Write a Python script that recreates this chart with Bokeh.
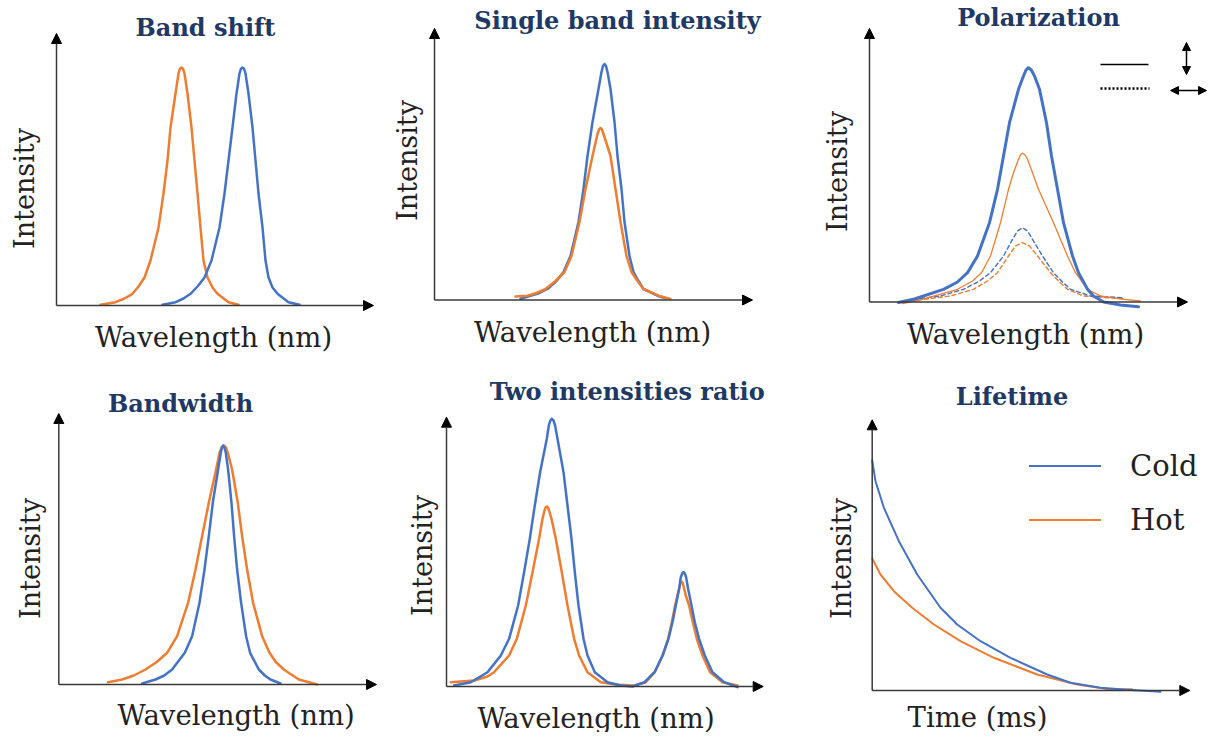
from math import pi
from bokeh.plotting import figure
from bokeh.layouts import column, row
from bokeh.models import Range1d, Label, Arrow, NormalHead, Legend, LegendItem
from bokeh.embed import file_html
from bokeh.resources import INLINE

BLUE = "#4472C4"
ORANGE = "#ED7D31"
NAVY = "#203864"
AXIS = "#3a3a3a"
TXT = "#222222"
SERIF = "DejaVu Serif"

# ---------------- data (arbitrary units) ----------------
# Band shift
shift_hot_x = [44, 59, 68, 76, 82, 88, 94, 102, 107, 111, 114, 119, 122, 123.5, 125, 126.5, 128, 131, 135, 138, 141, 144, 147, 151, 156, 161, 172, 182]
shift_hot_y = [0.7, 3.3, 7, 11.7, 19, 28, 45, 78, 112, 145, 178, 212, 232, 236.8, 238, 236.8, 232, 212, 178, 145, 112, 78, 45, 28, 18, 11.7, 3.3, 0.7]
shift_cold_x = [106, 119, 127, 134, 141, 148, 155, 163, 168, 172, 176, 180, 183, 184.5, 186, 187.5, 189, 192, 196, 199, 202, 206, 209, 212, 216, 221, 232, 243]
shift_cold_y = [0.7, 3.3, 7, 11.7, 19, 28, 45, 78, 112, 145, 178, 212, 232, 236.8, 238, 236.8, 232, 212, 178, 145, 112, 78, 45, 28, 18, 11.7, 3.3, 0.7]

# Single band intensity
single_cold_x = [86, 96, 105, 113, 122, 129, 136, 144, 149, 153, 158, 164, 167, 168.5, 170, 171.5, 173, 176, 180, 183, 187, 190, 195, 199, 204, 209, 223, 231]
single_cold_y = [1.2, 4.3, 7, 11, 19, 28, 44, 78, 111, 144, 178, 211, 228, 234, 236, 234, 228, 211, 178, 144, 111, 78, 44, 28, 19, 11, 4.3, 1.7]
single_hot_x = [81, 93, 102, 111, 121, 130, 137, 145, 151, 158, 163, 164.5, 166, 167.5, 169, 176, 181, 186, 192, 197, 203, 209, 224, 236]
single_hot_y = [3.5, 4.3, 7, 11, 19, 28, 44, 78, 111, 144, 166, 170.5, 172, 170.5, 166, 144, 111, 78, 44, 28, 19, 11, 4.3, 1]

# Polarization (solid = one polarization, dashed = the other)
pol_cold_solid_x = [29, 45, 54, 74, 88, 98, 108, 120, 128, 134, 140, 149, 154, 156.5, 159, 161.8, 165, 170, 177, 182, 188, 194, 203, 209, 218, 224, 234, 251, 269]
pol_cold_solid_y = [-0.5, 3, 6, 12.7, 20, 29.3, 46, 79.3, 112.7, 146, 179.3, 212.7, 226, 232, 234.3, 232, 226, 212.7, 179.3, 146, 112.7, 79.3, 46, 29.3, 12.7, 6, 0, -3, -4.7]
pol_hot_solid_x = [33, 50, 64, 88, 103, 112, 121, 131, 139, 144, 149, 151, 153, 155.5, 158, 163, 169, 184, 198, 206, 218, 231, 254, 271]
pol_hot_solid_y = [-1.5, 2, 6, 12.7, 21, 29.3, 46, 79.3, 112.7, 129.3, 142.7, 147.3, 148.7, 147.3, 142.7, 129.3, 112.7, 79.3, 46, 29.3, 12.7, 6, 2.7, 1]
pol_cold_dash_x = [44, 71, 94, 110, 121, 134, 143, 148, 153, 158, 163, 173, 184, 193, 201, 221, 254]
pol_cold_dash_y = [2.7, 6, 12.7, 21, 29.3, 46, 62.7, 71, 74.3, 71, 62.7, 46, 29.3, 20, 12.7, 6, 4.3]
pol_hot_dash_x = [41, 81, 104, 118, 128, 139, 146, 153, 160, 168, 181, 190, 198, 214, 254]
pol_hot_dash_y = [1, 6, 12.7, 21, 29.3, 46, 56, 59.3, 56, 46, 29.3, 20, 12.7, 6, 3.3]

# Bandwidth
bw_cold_x = [83.3, 96.7, 105.5, 113.3, 126, 133.3, 140.7, 145.7, 150, 154, 159.3, 162, 163.2, 164.3, 165.6, 167, 169.3, 172.7, 175.3, 178.3, 182.3, 187.3, 191.3, 200, 206, 211.7, 221.7]
bw_cold_y = [1, 5, 9, 15, 31.7, 48.3, 81.7, 115, 148.3, 181.7, 215, 231.7, 237, 239, 237, 231.7, 215, 181.7, 148.3, 115, 81.7, 48.3, 31.7, 15, 9, 5, 1]
bw_hot_x = [49.3, 63.3, 75, 86.7, 98, 108.3, 118.3, 129.3, 136.7, 143.3, 150, 157.3, 160.7, 162.9, 165, 167, 169, 173.3, 179, 183.3, 188.3, 194.3, 203.3, 210.7, 217, 225, 240, 258.3]
bw_hot_y = [2.3, 5, 9, 15, 22.5, 31.7, 48.3, 81.7, 115, 148.3, 181.7, 215, 231.7, 237.2, 239, 237.2, 231.7, 215, 181.7, 148.3, 115, 81.7, 48.3, 31.7, 22.5, 15, 5, 0]

# Two intensities ratio
ratio_cold_x = [7.6, 24.3, 41, 54.3, 62.6, 71.6, 77.6, 83.3, 88.3, 93.6, 100.3, 102.3, 103.8, 105.3, 107, 108.6, 111, 117, 121, 125, 128.3, 132, 137, 141, 148.3, 161, 174.3, 186, 198, 208, 216, 222, 226, 229.3, 232.6, 234.3, 235.7, 237, 238.3, 239.6, 241.6, 245, 248.3, 252.6, 258.3, 266, 277.6, 291]
ratio_cold_y = [1, 4.3, 14.3, 31, 47.7, 81, 114.3, 147.7, 181, 214.3, 247.7, 261, 266, 267.7, 266, 261, 247.7, 214.3, 181, 147.7, 114.3, 81, 47.7, 31, 14.3, 4.3, 1, 0, 4.3, 14.3, 31, 47.7, 64.3, 81, 97.7, 109.3, 113, 114.3, 113, 109.3, 97.7, 81, 64.3, 47.7, 31, 14.3, 4.3, -0.7]
ratio_hot_x = [4.3, 27.6, 41, 47.6, 62.6, 70.3, 79.3, 86, 92.6, 96, 98, 99.1, 100.3, 101.5, 102.6, 105, 109.3, 115.3, 121, 127.6, 132.6, 141, 154.3, 171, 187.6, 199.3, 208.3, 216.3, 221.6, 225.3, 228.6, 231, 233, 234, 235, 236.2, 237.3, 239.3, 242.6, 246.3, 250.3, 256, 263.6, 276, 291]
ratio_hot_y = [4.3, 6, 10, 14.3, 31, 47.7, 81, 114.3, 147.7, 167.7, 176, 179, 180, 179, 176, 167.7, 147.7, 114.3, 81, 47.7, 31, 14.3, 4.3, 1.7, 1, 4.3, 14.3, 31, 47.7, 64.3, 81, 91, 99.3, 103.5, 105, 103.5, 99.3, 91, 81, 64.3, 47.7, 31, 14.3, 4.3, 1]

# Lifetime
life_cold_t = [0, 3.3, 11.7, 26.7, 45, 68.3, 85, 108.3, 138.3, 175, 198.3, 228.3, 255, 288.3]
life_cold_i = [230, 209.3, 182.7, 149.3, 116, 82.7, 66, 49.3, 32.7, 16, 7.7, 2.7, 0.7, -1.3]
life_hot_t = [0, 8.3, 21.7, 40, 61.7, 88.3, 121.7, 165, 205, 238.3, 260]
life_hot_i = [132, 116, 99.3, 82.7, 66, 49.3, 32.7, 16, 6, 1, 1.3]

titles = ["Band shift", "Single band intensity", "Polarization", "Bandwidth", "Two intensities ratio", "Lifetime"]
x_labels = ["Wavelength (nm)"] * 5 + ["Time (ms)"]
y_label = "Intensity"
series_names = ["Cold", "Hot"]

# ---------------- layout geometry (page pixels) ----------------
# cell x0, y0, w, h, axis origin (ax, ay), arrow tips (tx, ty), title pos, ylabel pos, xlabel pos
geom = [
    (0, 0, 388, 360, 56, 305, 373, 33, (205, 27), (23.5, 188), (213, 336)),
    (388, 0, 412, 360, 434, 299.5, 752, 28, (617, 20), (407, 160), (592, 331)),
    (800, 0, 407, 360, 869, 301.5, 1187, 28, (1038, 17), (837, 171), (1025, 333)),
    (0, 360, 388, 372, 58.3, 684, 376, 413, (180, 403), (30, 558), (235.7, 714)),
    (388, 360, 412, 372, 446, 686, 762.7, 416.7, (626.7, 391), (421.7, 555), (595.5, 717)),
    (800, 360, 407, 372, 871.7, 690, 1189.3, 419.3, (1011.5, 396), (841, 558), (977, 716)),
]


def make_panel(i):
    x0, y0, w, h, ax, ay, tx, ty, tpos, ypos, xpos = geom[i]
    p = figure(width=w, height=h,
               x_range=Range1d(x0 - ax, x0 + w - ax),
               y_range=Range1d(ay - (y0 + h), ay - y0),
               x_axis_type=None, y_axis_type=None,
               toolbar_location=None, output_backend="svg",
               min_border=0, outline_line_color=None)
    p.grid.visible = False
    # axes with arrow heads
    p.add_layout(Arrow(end=NormalHead(size=10, fill_color="black", line_color="black"),
                       x_start=0, y_start=0, x_end=0, y_end=ay - ty,
                       line_color=AXIS, line_width=1.5))
    p.add_layout(Arrow(end=NormalHead(size=10, fill_color="black", line_color="black"),
                       x_start=0, y_start=0, x_end=tx - ax, y_end=0,
                       line_color=AXIS, line_width=1.5))

    def lab(pos, text, size, bold=False, color=TXT, angle=0.0):
        p.add_layout(Label(x=pos[0] - ax, y=ay - pos[1], text=text,
                           text_font=SERIF, text_font_size=size,
                           text_font_style="bold" if bold else "normal",
                           text_color=color, text_align="center",
                           text_baseline="middle", angle=angle))

    lab(tpos, titles[i], "24px", bold=True, color=NAVY)
    lab(ypos, y_label, "27px", angle=pi / 2)
    lab(xpos, x_labels[i], "27.5px")
    return p, ax, ay


def curve(p, x, y, color, width=2.5, dash="solid"):
    return p.line(x, y, line_color=color, line_width=width, line_dash=dash,
                  line_join="round", line_cap="round")


# Panel 1
p1, _, _ = make_panel(0)
curve(p1, shift_hot_x, shift_hot_y, ORANGE)
curve(p1, shift_cold_x, shift_cold_y, BLUE)

# Panel 2
p2, _, _ = make_panel(1)
curve(p2, single_cold_x, single_cold_y, BLUE)
curve(p2, single_hot_x, single_hot_y, ORANGE)

# Panel 3
p3, ax3, ay3 = make_panel(2)
curve(p3, pol_hot_dash_x, pol_hot_dash_y, ORANGE, 1.4, "4 3")
curve(p3, pol_cold_dash_x, pol_cold_dash_y, BLUE, 1.4, "4 3")
curve(p3, pol_hot_solid_x, pol_hot_solid_y, ORANGE, 1.3)
curve(p3, pol_cold_solid_x, pol_cold_solid_y, BLUE, 3)
# polarization key: solid / dotted line with arrows
p3.line([1100 - ax3, 1148 - ax3], [ay3 - 64, ay3 - 64], line_color="black", line_width=1.3)
p3.line([1100 - ax3, 1149 - ax3], [ay3 - 88, ay3 - 88], line_color="black", line_width=2.5, line_dash="2 2")
p3.add_layout(Arrow(start=NormalHead(size=8, fill_color="black", line_color="black"),
                    end=NormalHead(size=8, fill_color="black", line_color="black"),
                    x_start=1186 - ax3, y_start=ay3 - 74, x_end=1186 - ax3, y_end=ay3 - 42,
                    line_color="black", line_width=1.5))
p3.add_layout(Arrow(start=NormalHead(size=8, fill_color="black", line_color="black"),
                    end=NormalHead(size=8, fill_color="black", line_color="black"),
                    x_start=1170 - ax3, y_start=ay3 - 90, x_end=1206 - ax3, y_end=ay3 - 90,
                    line_color="black", line_width=1.5))

# Panel 4
p4, _, _ = make_panel(3)
curve(p4, bw_hot_x, bw_hot_y, ORANGE)
curve(p4, bw_cold_x, bw_cold_y, BLUE)

# Panel 5
p5, _, _ = make_panel(4)
curve(p5, ratio_hot_x, ratio_hot_y, ORANGE)
curve(p5, ratio_cold_x, ratio_cold_y, BLUE)

# Panel 6
p6, _, _ = make_panel(5)
r_hot = curve(p6, life_hot_t, life_hot_i, ORANGE, 2)
r_cold = curve(p6, life_cold_t, life_cold_i, BLUE, 2)
legend = Legend(items=[LegendItem(label=series_names[0], renderers=[r_cold]),
                       LegendItem(label=series_names[1], renderers=[r_hot])],
                location=(229, 195), orientation="vertical",
                glyph_width=72, glyph_height=35, label_height=35,
                label_standoff=29, spacing=19, padding=0, margin=0,
                border_line_color=None, background_fill_alpha=0,
                label_text_font=SERIF, label_text_font_size="29px",
                label_text_color=TXT)
p6.add_layout(legend)

layout = column(row(p1, p2, p3, spacing=0), row(p4, p5, p6, spacing=0), spacing=0)

open("out.html", "w").write(file_html(layout, INLINE))
